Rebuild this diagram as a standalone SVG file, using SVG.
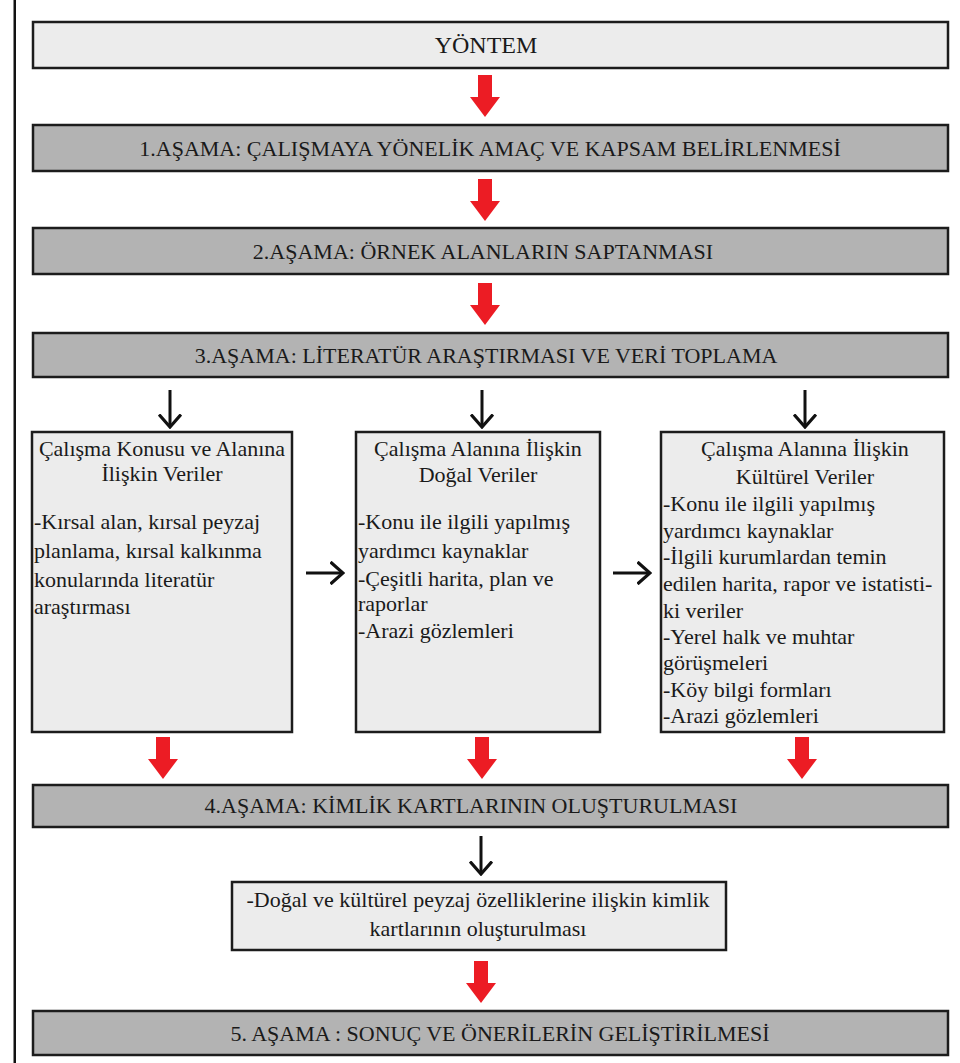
<svg xmlns="http://www.w3.org/2000/svg" xmlns:xlink="http://www.w3.org/1999/xlink" width="960" height="1063" viewBox="0 0 960 1063" font-family="'Liberation Serif', 'Times New Roman', 'DejaVu Serif', serif">
<style>
  .bar{fill:#b3b3b3;stroke:#1c1c1c;stroke-width:2.5}
  .lite{fill:#ececec;stroke:#1c1c1c;stroke-width:2.5}
  text{font-family:'Liberation Serif', Tinos, 'Times New Roman', 'DejaVu Serif', serif;fill:#1a1a1a;font-size:22px}
  .c{text-anchor:middle}
  .blk{stroke:#111;stroke-width:3;fill:none;marker-end:url(#chev)}
  .red{fill:#ec1c24}
</style>
<defs>
  <marker id="chev" markerUnits="userSpaceOnUse" viewBox="0 0 15 24" markerWidth="15" markerHeight="24" refX="13.5" refY="12" orient="auto">
    <path d="M1,1 L13.5,12 L1,23" fill="none" stroke="#111" stroke-width="3.2"/>
  </marker>
  <path id="redArrow" d="M-7,0 H7 V22 H15 L0,42 L-15,22 H-7 Z"/>
</defs>

<rect x="13.5" y="0" width="2.5" height="1063" fill="#111"/>

<g id="n-yontem"><rect class="lite" x="33" y="22" width="915" height="46"/><text class="c" x="486" y="53" font-family="Liberation Serif" style="font-size:24px">YÖNTEM</text></g>
<g id="n-asama1"><rect class="bar" x="33" y="125" width="915" height="46"/><text class="c" x="490" y="156" font-family="Liberation Serif">1.AŞAMA: ÇALIŞMAYA YÖNELİK AMAÇ VE KAPSAM BELİRLENMESİ</text></g>
<g id="n-asama2"><rect class="bar" x="33" y="228" width="915" height="46"/><text class="c" x="483" y="259">2.AŞAMA: ÖRNEK ALANLARIN SAPTANMASI</text></g>
<g id="n-asama3"><rect class="bar" x="33" y="333" width="915" height="44"/><text class="c" x="486" y="363">3.AŞAMA: LİTERATÜR ARAŞTIRMASI VE VERİ TOPLAMA</text></g>

<g id="n-konu"><rect class="lite" x="32" y="432" width="260" height="300"/>
  <text class="c" x="162" y="456">Çalışma Konusu ve Alanına</text>
  <text class="c" x="162" y="481">İlişkin Veriler</text>
  <text x="34" y="529">-Kırsal alan, kırsal peyzaj</text>
  <text x="34" y="558">planlama, kırsal kalkınma</text>
  <text x="34" y="587">konularında literatür</text>
  <text x="34" y="614">araştırması</text>
</g>
<g id="n-dogal"><rect class="lite" x="356" y="432" width="244" height="300"/>
  <text class="c" x="478" y="456">Çalışma Alanına İlişkin</text>
  <text class="c" x="478" y="482">Doğal Veriler</text>
  <text x="358" y="529">-Konu ile ilgili yapılmış</text>
  <text x="358" y="558">yardımcı kaynaklar</text>
  <text x="358" y="586">-Çeşitli harita, plan ve</text>
  <text x="358" y="611">raporlar</text>
  <text x="358" y="638">-Arazi gözlemleri</text>
</g>
<g id="n-kulturel"><rect class="lite" x="661" y="432" width="283" height="300"/>
  <text class="c" x="805" y="456">Çalışma Alanına İlişkin</text>
  <text class="c" x="805" y="484">Kültürel Veriler</text>
  <text x="663" y="511">-Konu ile ilgili yapılmış</text>
  <text x="663" y="538">yardımcı kaynaklar</text>
  <text x="663" y="564">-İlgili kurumlardan temin</text>
  <text x="663" y="591">edilen harita, rapor ve istatisti-</text>
  <text x="663" y="618">ki veriler</text>
  <text x="663" y="644">-Yerel halk ve muhtar</text>
  <text x="663" y="670">görüşmeleri</text>
  <text x="663" y="697">-Köy bilgi formları</text>
  <text x="663" y="723">-Arazi gözlemleri</text>
</g>

<g id="n-asama4"><rect class="bar" x="33" y="785" width="915" height="42"/><text class="c" x="471" y="813">4.AŞAMA: KİMLİK KARTLARININ OLUŞTURULMASI</text></g>
<g id="n-kimlik"><rect class="lite" x="232" y="882" width="494" height="68"/>
  <text class="c" x="478" y="907">-Doğal ve kültürel peyzaj özelliklerine ilişkin kimlik</text>
  <text class="c" x="478" y="936">kartlarının oluşturulması</text>
</g>
<g id="n-asama5"><rect class="bar" x="33" y="1011" width="915" height="44"/><text class="c" x="500" y="1041">5. AŞAMA : SONUÇ VE ÖNERİLERİN GELİŞTİRİLMESİ</text></g>

<g id="connectors">
  <use xlink:href="#redArrow" class="red" x="485" y="75"/>
  <use xlink:href="#redArrow" class="red" x="485" y="179"/>
  <use xlink:href="#redArrow" class="red" x="485" y="283"/>
  <use xlink:href="#redArrow" class="red" x="163" y="737"/>
  <use xlink:href="#redArrow" class="red" x="482" y="737"/>
  <use xlink:href="#redArrow" class="red" x="802" y="737"/>
  <use xlink:href="#redArrow" class="red" x="481" y="961"/>
  <line class="blk" x1="170" y1="390" x2="170" y2="427"/>
  <line class="blk" x1="482" y1="390" x2="482" y2="427"/>
  <line class="blk" x1="805" y1="390" x2="805" y2="427"/>
  <line class="blk" x1="306" y1="573" x2="343" y2="573"/>
  <line class="blk" x1="613" y1="573" x2="650" y2="573"/>
  <line class="blk" x1="481" y1="836" x2="481" y2="874"/>
</g>
</svg>
